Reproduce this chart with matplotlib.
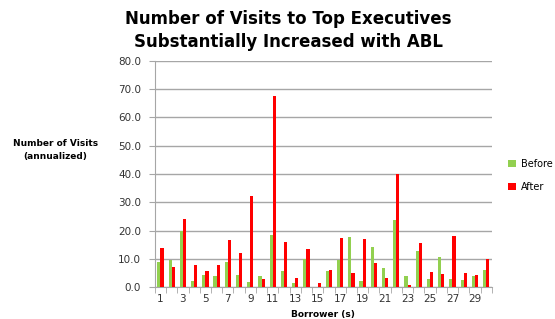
import numpy as np
import matplotlib.pyplot as plt

borrowers = list(range(1, 31))
before = [9.0, 9.7, 19.9, 2.2, 4.4, 4.0, 9.0, 4.4, 1.9, 3.9,
          18.3, 5.8, 1.3, 10.1, 0.0, 5.8, 9.7, 17.7, 2.0, 14.1,
          6.7, 23.8, 4.0, 12.8, 2.9, 10.7, 2.9, 2.6, 3.8, 6.1]
after = [14.0, 7.0, 24.1, 7.9, 5.8, 7.9, 16.6, 11.9, 32.3, 2.9,
         67.7, 16.0, 3.1, 13.5, 1.5, 6.1, 17.2, 4.9, 17.1, 8.5,
         3.3, 39.9, 0.8, 15.5, 5.4, 4.6, 18.0, 5.1, 4.4, 10.0]
yticks = np.arange(0, 81, 10)

green = '#92D050'
red = '#FF0000'

fig = plt.figure(figsize=(5.55, 3.19), dpi=100)
ax = fig.add_axes([0.279, 0.100, 0.607, 0.709])

x = np.arange(len(borrowers))
w = 0.28
ax.bar(x - w / 2, before, w, color=green, label='Before', zorder=3)
ax.bar(x + w / 2, after, w, color=red, label='After', zorder=3)

ax.set_xlim(-0.5, len(borrowers) - 0.5)
ax.set_ylim(0, 80)
ax.set_yticks(yticks)
ax.set_yticklabels([f'{v:.1f}' for v in yticks], fontsize=7.5, color='#333333')
ax.yaxis.grid(True, color='#A6A6A6', linewidth=1, zorder=0)

# labels on odd borrowers, tick marks between categories
ax.set_xticks(x[::2])
ax.set_xticklabels([str(b) for b in borrowers[::2]], fontsize=7.5, color='#333333')
ax.tick_params(axis='x', length=0, pad=5)
ax.set_xticks(np.arange(-0.5, len(borrowers)), minor=True)
ax.tick_params(axis='x', which='minor', length=4, color='#A6A6A6')
ax.tick_params(axis='y', length=4, color='#A6A6A6', pad=6)

for s in ['top', 'right']:
    ax.spines[s].set_visible(False)
for s in ['left', 'bottom']:
    ax.spines[s].set_color('#A6A6A6')

ax.set_xlabel('Borrower (s)', fontsize=6.5, fontweight='bold', labelpad=4)
fig.text(0.10, 0.53, 'Number of Visits\n(annualized)', fontsize=6.5, fontweight='bold',
         ha='center', va='center', linespacing=1.5)

fig.text(0.52, 0.97, 'Number of Visits to Top Executives\nSubstantially Increased with ABL',
         fontsize=12, fontweight='bold', ha='center', va='top', linespacing=1.4)

fig.legend(loc='center left', bbox_to_anchor=(0.9, 0.45), frameon=False, fontsize=7,
           handlelength=0.8, handleheight=0.8, handletextpad=0.5, labelspacing=1.3)

fig.savefig('out.png', dpi=100)
